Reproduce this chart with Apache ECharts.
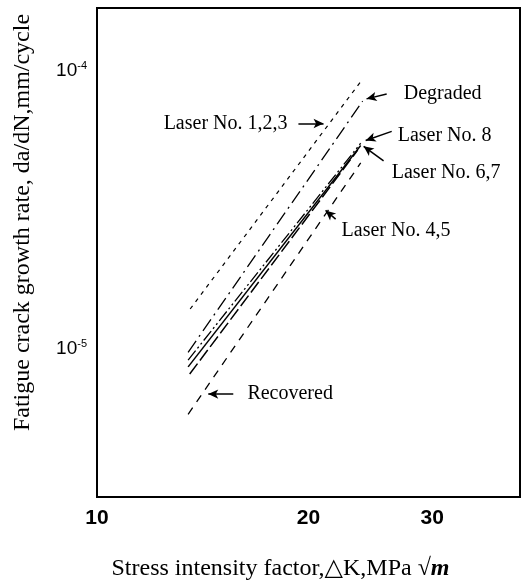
<!DOCTYPE html>
<html>
<head>
<meta charset="utf-8">
<script src="https://cdn.jsdelivr.net/npm/echarts@6/dist/echarts.min.js"></script>
<style>
  html, body { margin: 0; padding: 0; background: #fff; }
  #chart { width: 526px; height: 586px; }
</style>
</head>
<body>
<div id="chart"></div>
<script>
// tick labels
const kTicks = [10, 20, 30]
const rateTicks = [1e-5, 1e-4]

// each band: start / end of the fitted line (ΔK, da/dN)
const laser123K = [13.57, 23.88]
const laser123Rate = [1.39e-5, 9.37e-5]
const degradedK = [13.48, 23.88]
const degradedRate = [9.7e-6, 7.8e-5]
const laser8K = [13.48, 23.73]
const laser8Rate = [9.1e-6, 5.5e-5]
const laser67K = [13.48, 23.73]
const laser67Rate = [8.6e-6, 5.4e-5]
const laser45K = [13.55, 23.5]
const laser45Rate = [8.1e-6, 5.2e-5]
const recoveredK = [13.48, 23.73]
const recoveredRate = [5.8e-6, 4.67e-5]

// callouts (text anchor and arrow, in data units)
const noteText = ['Laser No. 1,2,3', 'Degraded', 'Laser No. 8', 'Laser No. 6,7', 'Laser No. 4,5', 'Recovered']
const noteK = [18.67, 27.33, 26.79, 26.27, 22.29, 16.37]
const noteRate = [6.48e-5, 8.28e-5, 5.87e-5, 4.3e-5, 2.67e-5, 6.86e-6]
const arrowFromK = [19.35, 25.84, 26.27, 25.58, 21.86, 15.63]
const arrowFromRate = [6.48e-5, 8.28e-5, 6.07e-5, 4.75e-5, 2.93e-5, 6.86e-6]
const arrowToK = [21.01, 24.19, 24.12, 23.96, 21.15, 14.4]
const arrowToRate = [6.48e-5, 7.95e-5, 5.63e-5, 5.36e-5, 3.15e-5, 6.86e-6]

const bands = [
  { name: 'Laser No. 1,2,3', k: laser123K, rate: laser123Rate, dash: [4, 5], width: 1.2 },
  { name: 'Degraded', k: degradedK, rate: degradedRate, dash: [14, 5, 2, 5], width: 1.3 },
  { name: 'Laser No. 8', k: laser8K, rate: laser8Rate, dash: [12, 3, 2, 3, 2, 3], width: 1.3 },
  { name: 'Laser No. 6,7', k: laser67K, rate: laser67Rate, dash: 'solid', width: 1.5 },
  { name: 'Laser No. 4,5', k: laser45K, rate: laser45Rate, dash: [13, 4], width: 1.5 },
  { name: 'Recovered', k: recoveredK, rate: recoveredRate, dash: [8, 7], width: 1.3 },
]

const serif = '"Liberation Serif", "DejaVu Serif", serif'
const sans = '"Liberation Sans", Arial, sans-serif'

const lineSeries = bands.map(b => ({
  name: b.name,
  type: 'line',
  symbol: 'none',
  silent: true,
  lineStyle: { color: '#000', width: b.width, type: b.dash },
  data: b.k.map((k, i) => [k, b.rate[i]]),
}))

const noteSeries = {
  type: 'line',
  data: [],
  silent: true,
  markPoint: {
    symbol: 'circle',
    symbolSize: 0,
    data: noteText.map((t, i) => ({
      coord: [noteK[i], noteRate[i]],
      label: {
        show: true,
        formatter: t,
        position: i === 0 ? 'left' : 'right',
        distance: 0,
        color: '#000',
        fontFamily: serif,
        fontSize: 20,
      },
    })),
  },
  markLine: {
    symbol: ['none', 'arrow'],
    symbolSize: [7, 10],
    lineStyle: { color: '#000', width: 1.5, type: 'solid' },
    label: { show: false },
    data: noteText.map((t, i) => [
      { coord: [arrowFromK[i], arrowFromRate[i]] },
      { coord: [arrowToK[i], arrowToRate[i]] },
    ]),
  },
}

const chart = echarts.init(document.getElementById('chart'), null, { renderer: 'canvas' })
chart.setOption({
  animation: false,
  backgroundColor: '#fff',
  grid: { left: 97, right: 6, top: 8, bottom: 83, show: true, borderColor: '#000', borderWidth: 2 },
  xAxis: {
    type: 'log',
    logBase: 10,
    min: 10,
    max: 40,
    name: 'Stress intensity factor,△K,MPa √{m|m}',
    nameLocation: 'middle',
    nameGap: 60,
    nameTextStyle: {
      color: '#000', fontFamily: serif, fontSize: 24,
      padding: [0, 56, 0, 0],
      rich: { m: { fontFamily: serif, fontSize: 24, fontStyle: 'italic', fontWeight: 'bold' } },
    },
    axisLine: { lineStyle: { color: '#000', width: 2 } },
    axisTick: { show: false },
    splitLine: { show: false },
    axisLabel: {
      customValues: kTicks,
      margin: 11,
      color: '#000',
      fontFamily: sans,
      fontWeight: 'bold',
      fontSize: 21,
      formatter: v => String(Math.round(v)),
    },
  },
  yAxis: {
    type: 'log',
    logBase: 10,
    min: 2.92e-6,
    max: 1.69e-4,
    name: 'Fatigue crack growth rate, da/dN,mm/cycle',
    nameLocation: 'middle',
    nameGap: 62,
    nameTextStyle: {
      color: '#000', fontFamily: serif, fontSize: 24,
      padding: [0, 0, 0, 60],
    },
    axisLine: { lineStyle: { color: '#000', width: 2 } },
    axisTick: { show: false },
    splitLine: { show: false },
    axisLabel: {
      customValues: rateTicks,
      margin: 10,
      color: '#000',
      fontFamily: sans,
      fontSize: 19,
      formatter: v => '{base|10}{sup|' + Math.round(Math.log10(v)) + '}',
      rich: {
        base: { fontFamily: sans, fontSize: 19, color: '#000' },
        sup: { fontFamily: sans, fontSize: 11, color: '#000', verticalAlign: 'top', padding: [0, 0, 10, 0] },
      },
    },
  },
  series: [...lineSeries, noteSeries],
})
</script>
</body>
</html>
